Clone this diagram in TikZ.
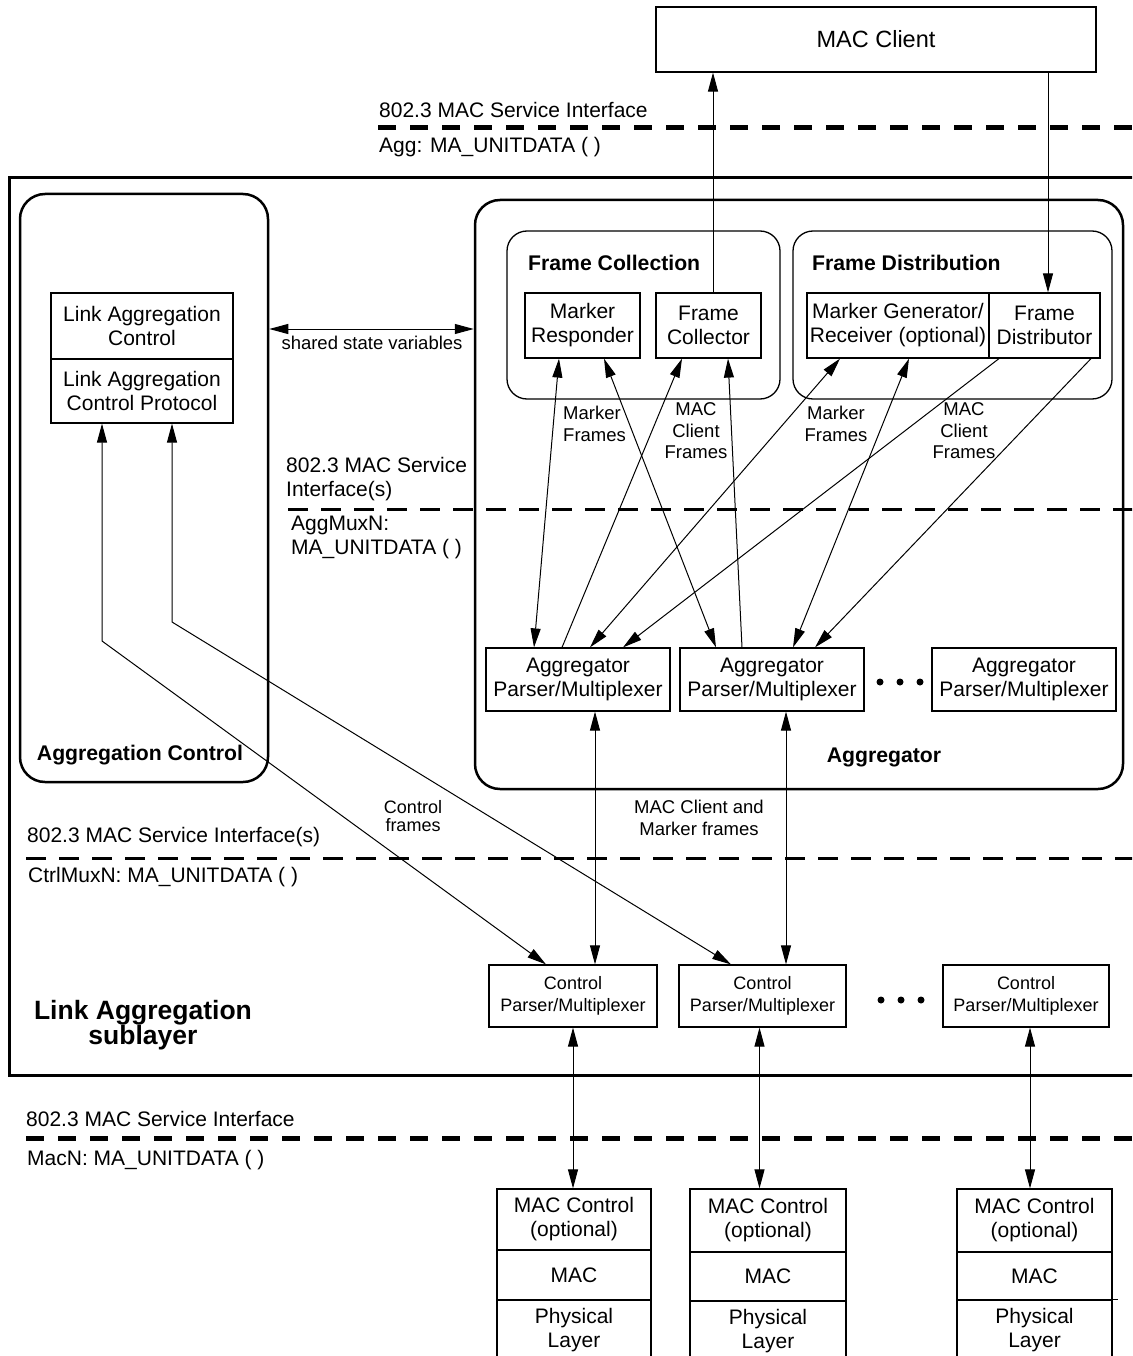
\documentclass[tikz,border=0pt]{standalone}
\usepackage{fontspec}
\setmainfont{Liberation Sans}
\usetikzlibrary{arrows.meta}
\newcommand\fmain{\fontsize{21}{24}\selectfont}
\newcommand\fsml{\fontsize{18.5}{21.5}\selectfont}
\newcommand\fctl{\fontsize{18}{22}\selectfont}
\newcommand\fbld{\fontsize{21.2}{24}\selectfont\bfseries}
\begin{document}
\begin{tikzpicture}[x=1pt,y=-1pt,
  box/.style={draw, line width=1.2pt, inner sep=0pt, align=center, font=\fmain},
  cbox/.style={draw, line width=1.2pt, inner sep=0pt, align=center, font=\fctl},
  rbig/.style={draw, line width=2.5pt, rounded corners=25pt, inner sep=0pt},
  rsml/.style={draw, line width=1.3pt, rounded corners=20pt, inner sep=0pt},
  lab/.style={inner sep=0pt, font=\fmain, align=left},
  sml/.style={inner sep=0pt, font=\fsml, align=center},
  bld/.style={inner sep=0pt, font=\fbld},
  tip/.tip={Triangle[length=19pt,width=10pt]},
  arr/.style={line width=1pt, -tip},
  darr/.style={line width=1pt, tip-tip},
  thickdash/.style={line width=5pt, dash pattern=on 18pt off 14pt},
  middash/.style={line width=3pt, dash pattern=on 20pt off 13pt}]
\useasboundingbox (0,0) rectangle (1132,1356);
\clip (0,0) rectangle (1132,1356);

% MAC client
\node[box, font=\fontsize{23.5}{26}\selectfont, minimum width=440, minimum height=65] (mc) at (876,39.5) {MAC Client};

% interface lines and labels
\draw[thickdash] (378,128) -- (1140,128);
\node[lab, anchor=west] (t1) at (379,110) {802.3 MAC Service Interface};
\node[lab, anchor=west] (t2) at (379,147) {Agg: MA\_UNITDATA ( )};

% outer sublayer
\draw[line width=3pt] (1140,178) -- (9,178) -- (9,1075) -- (1140,1075);

% aggregation control
\node[rbig, minimum width=248, minimum height=588] (aggctrl) at (144,488) {};
\node[bld] (aclab) at (140,755) {Aggregation Control};
\node[box, minimum width=182, minimum height=66] (lac) at (142,326) {Link Aggregation\\Control};
\node[box, minimum width=182, minimum height=64] (lacp) at (142,391) {Link Aggregation\\Control Protocol};

% aggregator
\node[rbig, minimum width=648, minimum height=589] (aggr) at (799,494.5) {};
\node[bld] (aglab) at (884,757) {Aggregator};
\draw[darr] (aggctrl.east |- 0,329) -- (aggr.west |- 0,329);
\node[sml] (ssv) at (372,343) {shared state variables};

\node[rsml, minimum width=273, minimum height=168] (fcoll) at (643.5,315) {};
\node[rsml, minimum width=319, minimum height=168] (fdist) at (952.5,315) {};
\node[bld, anchor=west] (fcl) at (528,263) {Frame Collection};
\node[bld, anchor=west] (fdl) at (812,263) {Frame Distribution};

\node[box, minimum width=115, minimum height=65] (mr) at (582.5,325.5) {Marker\\Responder};
\node[box, minimum width=105, minimum height=65] (fc) at (708.5,325.5) {Frame\\Collector};
\node[box, minimum width=182, minimum height=65] (mg) at (898,325.5) {Marker Generator/\\Receiver (optional)};
\node[box, minimum width=111, minimum height=65] (fd) at (1044.5,325.5) {Frame\\Distributor};

\node[box, minimum width=184, minimum height=63] (ap1) at (578,679.5) {Aggregator\\Parser/Multiplexer};
\node[box, minimum width=184, minimum height=63] (ap2) at (772,679.5) {Aggregator\\Parser/Multiplexer};
\node[box, minimum width=184, minimum height=63] (ap3) at (1024,679.5) {Aggregator\\Parser/Multiplexer};
\fill (880,682) circle (3.5) (900,682) circle (3.5) (920,682) circle (3.5);

% MAC client arrows
\draw[arr] ([xshift=4.5pt]fc.north) -- ([xshift=4.5pt]fc.north |- mc.south);
\draw[arr] ([xshift=3.5pt]fd.north |- mc.south) -- ([xshift=3.5pt]fd.north);

% aggregator internal arrows
\draw[darr] ([xshift=-23.5pt]mr.south) -- ([xshift=-44pt]ap1.north);
\draw[darr] ([xshift=21.5pt]mr.south) -- ([xshift=-56pt]ap2.north);
\draw[arr] ([xshift=-16pt]ap1.north) -- ([xshift=-26.5pt]fc.south);
\draw[arr] ([xshift=-30pt]ap2.north) -- ([xshift=19.5pt]fc.south);
\draw[darr] ([xshift=-58pt]mg.south) -- ([xshift=12pt]ap1.north);
\draw[arr] ([xshift=-45.5pt]fd.south) -- ([xshift=45pt]ap1.north);
\draw[darr] ([xshift=11pt]mg.south) -- ([xshift=21pt]ap2.north);
\draw[arr] ([xshift=46.5pt]fd.south) -- ([xshift=43pt]ap2.north);

\node[sml, align=left, anchor=west] (mf1) at (563,424) {Marker\\Frames};
\node[sml] (mcf1) at (696,431) {MAC\\Client\\Frames};
\node[sml] (mf2) at (836,424) {Marker\\Frames};
\node[sml] (mcf2) at (964,431) {MAC\\Client\\Frames};

% AggMux interface
\draw[middash] (288,509) -- (1140,509);
\node[lab, anchor=west] (t3) at (286,479) {802.3 MAC Service\\Interface(s)};
\node[lab, anchor=west] (t4) at (291,537) {AggMuxN:\\MA\_UNITDATA ( )};

% CtrlMux interface
\draw[middash] (26,858) -- (1140,858);
\node[lab, anchor=west] (t5) at (27,837) {802.3 MAC Service Interface(s)};
\node[lab, anchor=west] (t6) at (28,877) {CtrlMuxN: MA\_UNITDATA ( )};

% control parser/multiplexers
\node[cbox, minimum width=168, minimum height=62] (cp1) at (573,996) {Control\\Parser/Multiplexer};
\node[cbox, minimum width=167, minimum height=62] (cp2) at (762.5,996) {Control\\Parser/Multiplexer};
\node[cbox, minimum width=166, minimum height=62] (cp3) at (1026,996) {Control\\Parser/Multiplexer};
\fill (881,1000) circle (3.5) (901,1000) circle (3.5) (921,1000) circle (3.5);

\draw[darr] ([xshift=17pt]ap1.south) -- ([xshift=17pt]ap1.south |- cp1.north);
\draw[darr] ([xshift=14pt]ap2.south) -- ([xshift=14pt]ap2.south |- cp2.north);
\node[sml] (mcm) at (699,818) {MAC Client and\\Marker frames};

\coordinate (bend1) at (102,641);
\coordinate (bend2) at (172,622);
\draw[darr] ([xshift=-40pt]lacp.south) -- (bend1) -- ([xshift=-27pt]cp1.north);
\draw[darr] ([xshift=30pt]lacp.south) -- (bend2) -- ([xshift=-31.5pt]cp2.north);
\node[sml, font=\fontsize{18}{18}\selectfont] (cf) at (413,816) {Control\\frames};

\node[inner sep=0pt, align=center, font=\fontsize{26.5}{25}\selectfont\bfseries] (lasl) at (143,1025) {Link Aggregation\\sublayer};

% MAC interface
\draw[thickdash] (26,1138) -- (1140,1138);
\node[lab, anchor=west] (t7) at (26,1119) {802.3 MAC Service Interface};
\node[lab, anchor=west] (t8) at (27,1160) {MacN: MA\_UNITDATA ( )};

% MAC stacks
\node[box, minimum width=154, minimum height=61] (mcA) at (574,1219.5) {MAC Control\\(optional)};
\node[box, minimum width=154, minimum height=50] (macA) at (574,1275) {MAC};
\node[box, minimum width=154, minimum height=60] (phyA) at (574,1330) {Physical\\Layer};
\node[box, minimum width=156, minimum height=63] (mcB) at (768,1220.5) {MAC Control\\(optional)};
\node[box, minimum width=156, minimum height=49] (macB) at (768,1276.5) {MAC};
\node[box, minimum width=156, minimum height=60] (phyB) at (768,1331) {Physical\\Layer};
\node[box, minimum width=155, minimum height=63] (mcC) at (1034.5,1220.5) {MAC Control\\(optional)};
\node[box, minimum width=155, minimum height=48] (macC) at (1034.5,1276) {MAC};
\node[box, minimum width=155, minimum height=60] (phyC) at (1034.5,1330) {Physical\\Layer};
\draw[line width=1.2pt] (phyC.north east) -- ++(5,0);

\draw[darr] (cp1.south) -- (cp1.south |- mcA.north);
\draw[darr] ([xshift=-3pt]cp2.south) -- ([xshift=-3pt]cp2.south |- mcB.north);
\draw[darr] ([xshift=4pt]cp3.south) -- ([xshift=4pt]cp3.south |- mcC.north);
\end{tikzpicture}
\end{document}
